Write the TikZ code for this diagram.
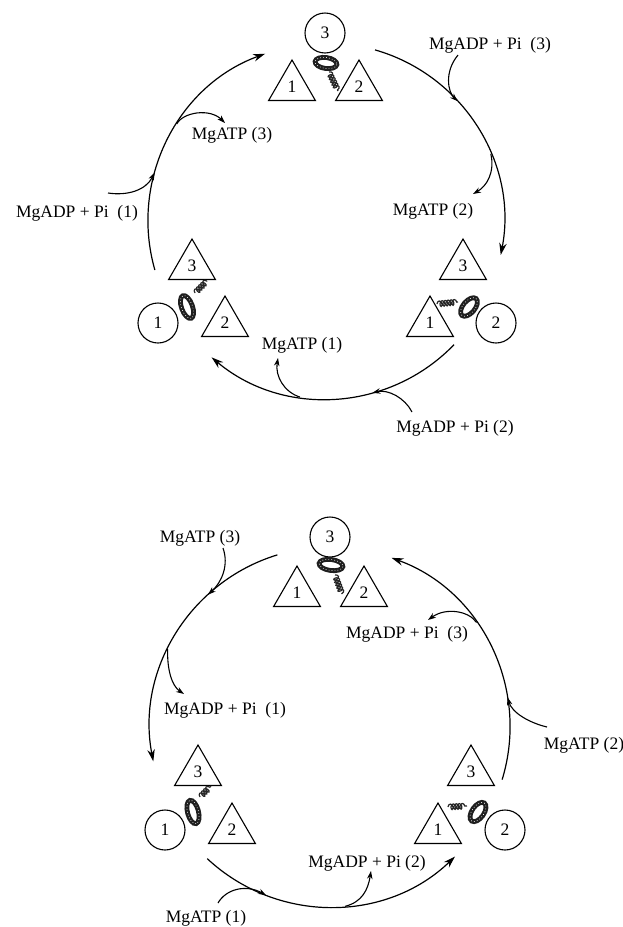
\documentclass[tikz,border=0pt]{standalone}
\usepackage{fontspec}
\setmainfont{Liberation Serif}
\usetikzlibrary{calc,arrows.meta,shapes.geometric,decorations.pathmorphing}
\begin{document}
\begin{tikzpicture}[x=1pt,y=-1pt,
  every node/.style={font=\fontsize{17.5}{20}\selectfont, inner sep=0pt},
  tri/.style={draw, line width=1.1pt, regular polygon, regular polygon sides=3, minimum size=54pt},
  sub/.style={draw, line width=1.1pt, circle, minimum size=40pt},
  cyc/.style={line width=1.2pt, -{Stealth[length=12pt,width=7.5pt]}},
  side/.style={line width=1.1pt, -{Stealth[length=8pt,width=5.5pt]}},
  ring/.style={draw=black!88, line width=4.8pt},
  grain/.style={draw=white, line width=0.6pt, dash pattern=on 0.8pt off 2.2pt},
  helix/.style={draw=black!85, line width=1.2pt, decorate,
    decoration={coil, aspect=0.6, segment length=3pt, amplitude=2.8pt}}]
\useasboundingbox (0,0) rectangle (623,927);

% ---------------- upper cycle ----------------
\coordinate (O1) at (326,221);
\node[sub] (uc3) at (325,33) {3};
\node[tri] (ut1) at (292,87) {1};
\node[tri] (ut2) at (359,87) {2};
\node[tri] (ul3) at (192,266) {3};
\node[sub] (ulc1) at (158,323) {1};
\node[tri] (ul2) at (225,323) {2};
\node[tri] (ur3) at (463,266) {3};
\node[tri] (ur1) at (430,323) {1};
\node[sub] (urc2) at (496,323) {2};

% coiled linkers
\draw[ring, rotate around={-8:(326,63)}] (326,63) ellipse[x radius=11, y radius=5.5];
\draw[grain, rotate around={-8:(326,63)}] (326,63) ellipse[x radius=11, y radius=5.5];
\draw[helix] (329,72) -- (338,91);
\draw[ring, rotate around={-70:(187,307)}] (187,307) ellipse[x radius=12, y radius=5.5];
\draw[grain, rotate around={-70:(187,307)}] (187,307) ellipse[x radius=12, y radius=5.5];
\draw[helix] (195,293) -- (207,281);
\draw[ring, rotate around={50:(469,307)}] (469,307) ellipse[x radius=11, y radius=6];
\draw[grain, rotate around={50:(469,307)}] (469,307) ellipse[x radius=11, y radius=6];
\draw[helix] (437,304) -- (458,302);

% rotation arcs
\coordinate (ua1) at ($(O1)+(164:178)$);
\coordinate (ua2) at ($(O1)+(-74:178)$);
\coordinate (ua3) at ($(O1)+(44:178)$);
\draw[cyc] (ua1) arc[start angle=164, end angle=250, radius=178];
\draw[cyc] (ua2) arc[start angle=-74, end angle=11, radius=178];
\draw[cyc] (ua3) arc[start angle=44, end angle=130, radius=178];

% labels
\node (uadp3) at (490,45) {MgADP + Pi\ \ (3)};
\node (uatp3) at (232,135) {MgATP (3)};
\node (uadp1) at (77,213) {MgADP + Pi\ \ (1)};
\node (uatp2) at (433,211) {MgATP (2)};
\node (uatp1) at (302,345) {MgATP (1)};
\node (uadp2) at (455,428) {MgADP + Pi (2)};

% substrate in / product out
\coordinate (uj1) at ($(O1)+(195.8:178)$);
\coordinate (ul3o) at ($(O1)+(213:178)$);
\coordinate (uj3) at ($(O1)+(-42.3:178)$);
\coordinate (ul2o) at ($(O1)+(-22.2:178)$);
\coordinate (uj2) at ($(O1)+(74.9:178)$);
\coordinate (ul1o) at ($(O1)+(98.4:178)$);
\coordinate (us1) at (108,193);
\coordinate (ue3) at (225,123);
\coordinate (us3) at (458,55);
\coordinate (ue2) at (473,194);
\coordinate (us2) at (412,412);
\coordinate (ue1) at (278,358);
\draw[side] (us1) .. controls (128,196) and (146,190) .. (uj1);
\draw[side] (ul3o) .. controls (183,112) and (210,108) .. (ue3);
\draw[side] (us3) .. controls (444,72) and (448,92) .. (uj3);
\draw[side] (ul2o) .. controls (495,172) and (487,186) .. (ue2);
\draw[side] (us2) .. controls (405,398) and (388,389) .. (uj2);
\draw[side] (ul1o) .. controls (284,392) and (275,376) .. (ue1);

% ---------------- lower cycle ----------------
\coordinate (O2) at (330,727);
\node[sub] (lc3) at (330,537) {3};
\node[tri] (lt1) at (297,593) {1};
\node[tri] (lt2) at (364,593) {2};
\node[tri] (ll3) at (198,772) {3};
\node[sub] (llc1) at (165,830) {1};
\node[tri] (ll2) at (232,830) {2};
\node[tri] (lr3) at (471,772) {3};
\node[tri] (lr1) at (438,830) {1};
\node[sub] (lrc2) at (505,830) {2};

\draw[ring, rotate around={-8:(331,565)}] (331,565) ellipse[x radius=12, y radius=5.5];
\draw[grain, rotate around={-8:(331,565)}] (331,565) ellipse[x radius=12, y radius=5.5];
\draw[helix] (335,575) -- (342,594);
\draw[ring, rotate around={-75:(193,812)}] (193,812) ellipse[x radius=12, y radius=5.5];
\draw[grain, rotate around={-75:(193,812)}] (193,812) ellipse[x radius=12, y radius=5.5];
\draw[helix] (200,797) -- (211,786);
\draw[ring, rotate around={55:(478,812)}] (478,812) ellipse[x radius=11, y radius=6];
\draw[grain, rotate around={55:(478,812)}] (478,812) ellipse[x radius=11, y radius=6];
\draw[helix] (448,807) -- (467,806);

\coordinate (la1) at ($(O2)+(253:180)$);
\coordinate (la2) at ($(O2)+(133:180)$);
\coordinate (la3) at ($(O2)+(17:180)$);
\draw[cyc] (la1) arc[start angle=253, end angle=169, radius=180];
\draw[cyc] (la2) arc[start angle=133, end angle=46, radius=180];
\draw[cyc] (la3) arc[start angle=17, end angle=-70, radius=180];

\node (latp3) at (200,538) {MgATP (3)};
\node (ladp1) at (225,710) {MgADP + Pi\ \ (1)};
\node (latp1) at (206,918) {MgATP (1)};
\node (ladp2) at (367,863) {MgADP + Pi (2)};
\node (latp2) at (584,745) {MgATP (2)};
\node (ladp3) at (407,634) {MgADP + Pi\ \ (3)};

\coordinate (lj3) at ($(O2)+(227.3:180)$);
\coordinate (ll1o) at ($(O2)+(205.6:180)$);
\coordinate (lj1) at ($(O2)+(110.8:180)$);
\coordinate (ll2o) at ($(O2)+(85.2:180)$);
\coordinate (lj2) at ($(O2)+(-9.5:180)$);
\coordinate (ll3o) at ($(O2)+(-35.5:180)$);
\coordinate (ls3) at (223,548);
\coordinate (le1) at (184,694);
\coordinate (ls1) at (218,903);
\coordinate (le2) at (371,871);
\coordinate (ls2) at (547,727);
\coordinate (le3) at (428,620);
\draw[side] (ls3) .. controls (229,565) and (222,582) .. (lj3);
\draw[side] (ll1o) .. controls (167,670) and (172,686) .. (le1);
\draw[side] (ls1) .. controls (226,889) and (246,884) .. (lj1);
\draw[side] (ll2o) .. controls (362,902) and (368,890) .. (le2);
\draw[side] (ls2) .. controls (530,723) and (512,713) .. (lj2);
\draw[side] (ll3o) .. controls (469,611) and (446,607) .. (le3);
\end{tikzpicture}
\end{document}
